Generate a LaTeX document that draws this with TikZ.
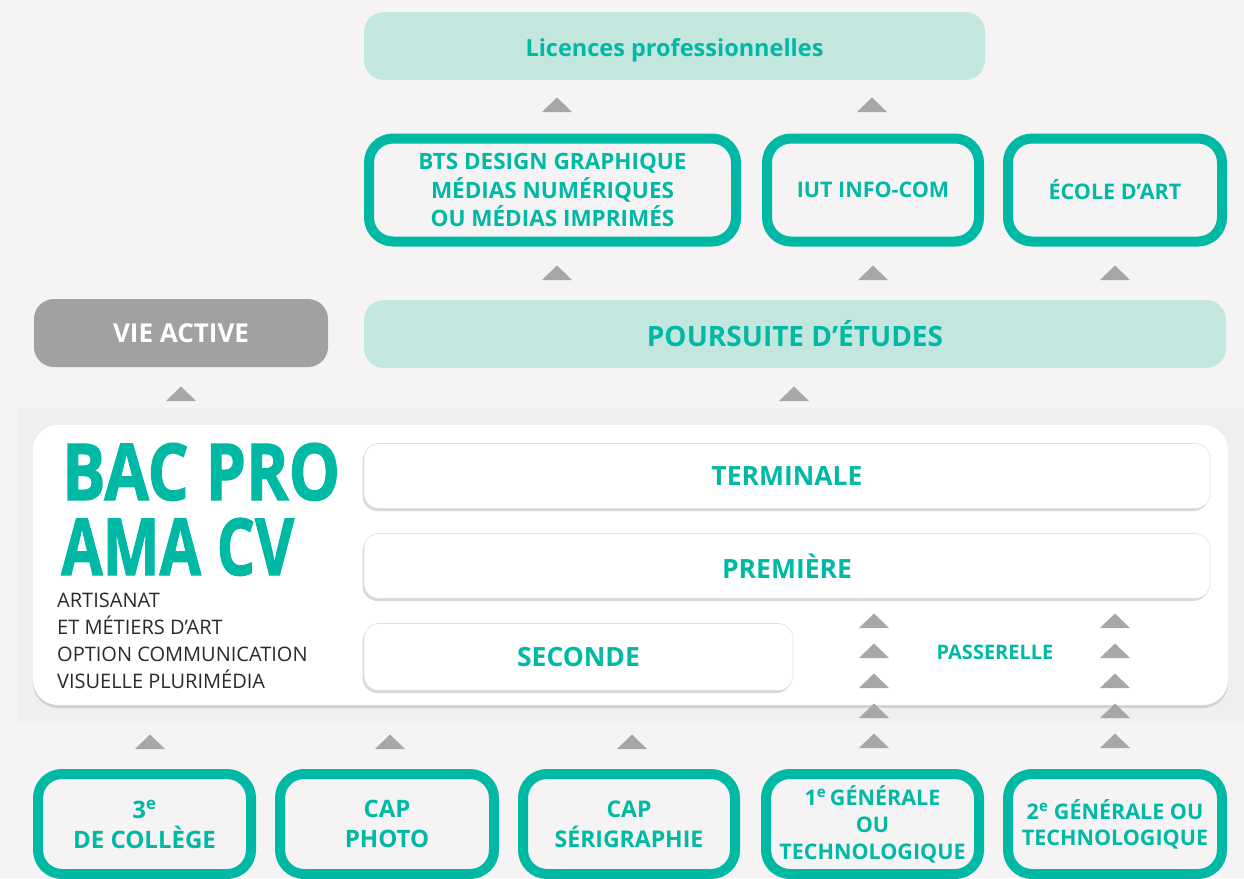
\documentclass[tikz,border=0pt]{standalone}
\usepackage{fontspec}
\setmainfont{Open Sans}
\usetikzlibrary{shadows}
\definecolor{teal}{HTML}{00B9A5}
\definecolor{lteal}{HTML}{C3E6DE}
\definecolor{bgc}{HTML}{F5F3F4}
\definecolor{band}{HTML}{EFEFEF}
\definecolor{tric}{HTML}{A7A7A7}
\definecolor{viec}{HTML}{A1A1A3}
\definecolor{subc}{HTML}{2A2A2A}
\tikzset{
  fs/.style={font=\fontsize{#1}{30}\selectfont\bfseries},
  ringbox/.style={draw=teal, line width=10pt, rounded corners=24pt, text=teal, align=center, inner sep=0pt},
  softbox/.style={fill=lteal, rounded corners=20pt, text=teal, align=center, inner sep=0pt},
  levelbox/.style={fill=white, draw=black!12, line width=0.6pt, rounded corners=15pt, text=teal, align=center, inner sep=0pt,
     drop shadow={shadow xshift=-1.5pt, shadow yshift=-2.5pt, opacity=0.25, fill=black!60}},
  subline/.style={anchor=base west, inner sep=0pt, text=subc, font=\fontsize{20}{20}\selectfont},
  titleline/.style={anchor=base west, inner sep=0pt, text=teal, font=\bfseries\fontsize{80}{80}\selectfont\addfontfeature{FakeBold=1.6}},
  uptri/.pic={\fill[tric] (-15,0) -- (15,0) -- (0,-14.5) -- cycle;},
}
\begin{document}
\begin{tikzpicture}[x=1pt,y=-1pt]
\useasboundingbox (0,0) rectangle (1244,878);
\fill[bgc] (0,0) rectangle (1244,878);
\fill[band] (17,408) rectangle (1244,721);

% main white panel
\node[fill=white, rounded corners=25pt, minimum width=1195pt, minimum height=280pt, inner sep=0pt,
  drop shadow={shadow xshift=0pt, shadow yshift=-3pt, opacity=0.18, fill=black!70}] (panel) at (630.5,565) {};

% top row
\node[softbox, minimum width=621pt, minimum height=68pt, text height=20pt, text depth=0pt, fs=23.5] (lic) at (674.5,46) {Licences professionnelles};
\node[ringbox, minimum width=367pt, minimum height=103pt, font=\fontsize{22.5}{28.5}\selectfont\bfseries] (bts) at (552.5,190)
  {BTS DESIGN GRAPHIQUE\\MÉDIAS NUMÉRIQUES\\OU MÉDIAS IMPRIMÉS};
\node[ringbox, minimum width=212pt, minimum height=103pt, fs=21.5] (iut) at (873,190) {IUT INFO-COM};
\node[ringbox, minimum width=214pt, minimum height=103pt, fs=21.5] (ecole) at (1115,190) {ÉCOLE D’ART};

% second row
\node[fill=viec, rounded corners=20pt, minimum width=294pt, minimum height=68pt, text=white, inner sep=0pt, fs=26] (vie) at (181,333) {VIE ACTIVE};
\node[softbox, minimum width=862pt, minimum height=68pt, fs=28] (pours) at (795,334) {POURSUITE D’ÉTUDES};

% title
\node[titleline] (t1) at (62,500) {\resizebox{278pt}{57pt}{BAC PRO}};
\node[titleline] (t2) at (61,575) {\resizebox{233pt}{57pt}{AMA CV}};
\node[subline] (s1) at (57,607) {ARTISANAT};
\node[subline] (s2) at (57,634) {ET MÉTIERS D’ART};
\node[subline] (s3) at (57,661) {OPTION COMMUNICATION};
\node[subline] (s4) at (57,688) {VISUELLE PLURIMÉDIA};

% levels
\node[levelbox, minimum width=846pt, minimum height=65pt, fs=26.5] (term) at (787,476) {TERMINALE};
\node[levelbox, minimum width=846pt, minimum height=65pt, fs=26.5] (prem) at (787,566) {PREMIÈRE};
\node[levelbox, minimum width=429pt, minimum height=67pt, fs=26.5] (sec) at (578.5,657) {SECONDE};
\node[text=teal, inner sep=0pt, fs=20] (pass) at (995,652) {PASSERELLE};

% bottom row
\node[ringbox, minimum width=213pt, minimum height=100pt, font=\fontsize{24}{30}\selectfont\bfseries] (b1) at (144.5,824) {3\textsuperscript{e}\\DE COLLÈGE};
\node[ringbox, minimum width=214pt, minimum height=100pt, font=\fontsize{24}{30}\selectfont\bfseries] (b2) at (387,824) {CAP\\PHOTO};
\node[ringbox, minimum width=212pt, minimum height=100pt, font=\fontsize{23}{30}\selectfont\bfseries] (b3) at (629,824) {CAP\\SÉRIGRAPHIE};
\node[ringbox, minimum width=213pt, minimum height=100pt, font=\fontsize{21.5}{27}\selectfont\bfseries] (b4) at (872.5,824) {1\textsuperscript{e}\,GÉNÉRALE\\OU\\TECHNOLOGIQUE};
\node[ringbox, minimum width=214pt, minimum height=100pt, font=\fontsize{21.5}{26}\selectfont\bfseries] (b5) at (1115,824) {2\textsuperscript{e} GÉNÉRALE OU\\TECHNOLOGIQUE};

% triangles
\foreach \x/\y in {557/112, 872/112, 557/280, 873/280, 1115/280, 181/401, 794/401, 150/749, 390/749, 632/749}
  \pic at (\x,\y) {uptri};
\foreach \y in {628,658,688,718,748}{
  \pic at (874,\y) {uptri};
  \pic at (1115,\y) {uptri};
}
\end{tikzpicture}
\end{document}
